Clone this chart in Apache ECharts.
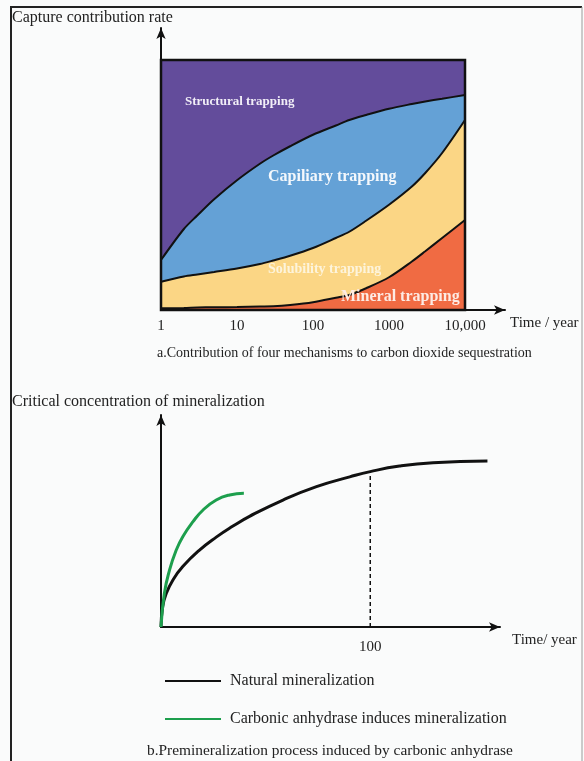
<!DOCTYPE html>
<html>
<head>
<meta charset="utf-8">
<script src="https://cdn.jsdelivr.net/npm/echarts@6/dist/echarts.min.js"></script>
<style>
  html, body { margin: 0; padding: 0; background: #fafbfb; }
  #main { width: 584px; height: 761px; }
</style>
</head>
<body>
<div id="main"></div>
<script>
// --- panel a: share of each trapping mechanism over time (log years)
const years = [1, 2, 3, 5, 10, 20, 30, 50, 100, 200, 300, 500, 1000, 2000, 3000, 5000, 10000];
const mineral    = [0.007, 0.008, 0.010, 0.011, 0.012, 0.014, 0.015, 0.020, 0.031, 0.049, 0.060, 0.087, 0.131, 0.194, 0.235, 0.288, 0.360];
const solubility = [0.106, 0.126, 0.132, 0.141, 0.154, 0.170, 0.183, 0.197, 0.217, 0.239, 0.253, 0.270, 0.290, 0.300, 0.313, 0.340, 0.400];
const capillary  = [0.087, 0.190, 0.236, 0.291, 0.353, 0.401, 0.420, 0.438, 0.453, 0.450, 0.447, 0.423, 0.384, 0.330, 0.286, 0.217, 0.100];
const structural = [0.800, 0.676, 0.622, 0.557, 0.481, 0.415, 0.382, 0.345, 0.299, 0.262, 0.240, 0.220, 0.195, 0.176, 0.166, 0.155, 0.140];
const yearTicks = {1: '1', 10: '10', 100: '100', 1000: '1000', 10000: '10,000'};

// --- panel b: critical concentration of mineralization
const naturalYears = [0, 0.8, 2.5, 5.7, 10.4, 18.4, 26.4, 34.4, 42.3, 58.3, 74.3, 90.2, 100, 114, 130, 156];
const naturalLevel = [0, 0.096, 0.158, 0.222, 0.285, 0.363, 0.424, 0.476, 0.522, 0.599, 0.662, 0.708, 0.733, 0.759, 0.775, 0.783];
const enzymeYears = [0, 1.6, 4.1, 7.3, 10.4, 15.3, 20.1, 26.4, 32.8, 39.6];
const enzymeLevel = [0, 0.158, 0.269, 0.363, 0.426, 0.497, 0.552, 0.599, 0.623, 0.631];
const markYear = 100;
const markLevel = 0.733;

const serif = 'Liberation Serif';
const pair = (xs, ys) => xs.map((x, i) => [x, ys[i]]);

// share goes first in each row so the stack is applied to the share, not to the year
function areaSeries(name, values, color) {
  return {
    name, type: 'line', stack: 'total', xAxisIndex: 0, yAxisIndex: 0,
    data: pair(values, years), encode: { x: 1, y: 0 },
    smooth: 0.3, symbol: 'none',
    lineStyle: { color: '#111', width: 2 },
    areaStyle: { color: color, opacity: 1 },
    z: 2
  };
}

const arrowAxisLine = { show: true, symbol: ['none', 'arrow'], symbolSize: [7, 11], lineStyle: { color: '#111', width: 2 } };
const hiddenAxis = { axisLine: { show: false }, axisTick: { show: false }, axisLabel: { show: false }, splitLine: { show: false } };

const chart = echarts.init(document.getElementById('main'));
chart.setOption({
  backgroundColor: '#fafbfb',
  animation: false,
  textStyle: { fontFamily: serif },
  grid: [
    { left: 161, top: 60, width: 304, height: 250, show: true, borderColor: '#111', borderWidth: 2.5, z: 3 },
    { left: 161, top: 28, width: 344, height: 282 },
    { left: 161, top: 415, width: 339, height: 212 }
  ],
  xAxis: [
    { gridIndex: 0, type: 'log', logBase: 10, min: 1, max: 10000,
      axisLine: { show: false }, axisTick: { show: false }, splitLine: { show: false },
      axisLabel: { margin: 9, color: '#222', fontSize: 15, fontFamily: serif,
        formatter: v => yearTicks[v] || '' } },
    Object.assign({ gridIndex: 1, type: 'value', min: 0, max: 1 }, hiddenAxis, { axisLine: arrowAxisLine }),
    { gridIndex: 2, type: 'value', min: 0, max: 162, interval: 100,
      axisLine: arrowAxisLine, axisTick: { show: false }, splitLine: { show: false },
      axisLabel: { margin: 13, color: '#222', fontSize: 15, fontFamily: serif, showMaxLabel: false,
        formatter: v => (v === markYear ? String(v) : '') } }
  ],
  yAxis: [
    Object.assign({ gridIndex: 0, type: 'value', min: 0, max: 1 }, hiddenAxis),
    Object.assign({ gridIndex: 1, type: 'value', min: 0, max: 1 }, hiddenAxis, { axisLine: arrowAxisLine }),
    Object.assign({ gridIndex: 2, type: 'value', min: 0, max: 1 }, hiddenAxis, { axisLine: arrowAxisLine })
  ],
  legend: {
    data: ['Natural mineralization', 'Carbonic anhydrase induces mineralization'],
    orient: 'vertical', left: 160, top: 668, itemWidth: 56, itemHeight: 2, itemGap: 22,
    icon: 'rect', textStyle: { fontFamily: serif, fontSize: 16, color: '#222', padding: [0, 0, 0, 4] }
  },
  series: [
    areaSeries('Mineral trapping', mineral, '#f06b43'),
    areaSeries('Solubility trapping', solubility, '#fbd685'),
    areaSeries('Capiliary trapping', capillary, '#64a1d6'),
    areaSeries('Structural trapping', structural, '#634c9b'),
    { name: 'Natural mineralization', type: 'line', xAxisIndex: 2, yAxisIndex: 2,
      data: pair(naturalYears, naturalLevel), smooth: 0.5, symbol: 'none',
      itemStyle: { color: '#111' }, lineStyle: { color: '#111', width: 3 } },
    { name: 'Carbonic anhydrase induces mineralization', type: 'line', xAxisIndex: 2, yAxisIndex: 2,
      data: pair(enzymeYears, enzymeLevel), smooth: 0.5, symbol: 'none',
      itemStyle: { color: '#1d9f4d' }, lineStyle: { color: '#1d9f4d', width: 3 } },
    { name: 'marker', type: 'line', xAxisIndex: 2, yAxisIndex: 2,
      data: [[markYear, 0], [markYear, markLevel]], symbol: 'none',
      lineStyle: { color: '#111', width: 1.5, type: [4, 3] } }
  ],
  graphic: [
    { type: 'line', shape: { x1: 11, y1: 7, x2: 582, y2: 7 }, style: { stroke: '#222', lineWidth: 2 } },
    { type: 'line', shape: { x1: 11, y1: 6, x2: 11, y2: 761 }, style: { stroke: '#222', lineWidth: 2 } },
    { type: 'line', shape: { x1: 582, y1: 7, x2: 582, y2: 761 }, style: { stroke: '#9a9a9a', lineWidth: 1 } },
    { type: 'text', left: 12, top: 10, style: { text: 'Capture contribution rate', font: '16px ' + serif, fill: '#222' } },
    { type: 'text', left: 510, top: 316, style: { text: 'Time / year', font: '15px ' + serif, fill: '#222' } },
    { type: 'text', left: 157, top: 346, style: { text: 'a.Contribution of four mechanisms to carbon dioxide sequestration', font: '14px ' + serif, fill: '#222' } },
    { type: 'text', left: 185, top: 95, z: 10, style: { text: 'Structural trapping', font: 'bold 13px ' + serif, fill: '#f1eef7' } },
    { type: 'text', left: 268, top: 169, z: 10, style: { text: 'Capiliary trapping', font: 'bold 16px ' + serif, fill: '#f4f8fc' } },
    { type: 'text', left: 268, top: 262, z: 10, style: { text: 'Solubility trapping', font: 'bold 14px ' + serif, fill: '#fdf4dc' } },
    { type: 'text', left: 341, top: 289, z: 10, style: { text: 'Mineral trapping', font: 'bold 16px ' + serif, fill: '#fdebe4' } },
    { type: 'text', left: 12, top: 394, style: { text: 'Critical concentration of mineralization', font: '16px ' + serif, fill: '#222' } },
    { type: 'text', left: 512, top: 633, style: { text: 'Time/ year', font: '15px ' + serif, fill: '#222' } },
    { type: 'text', left: 147, top: 743, style: { text: 'b.Premineralization process induced by carbonic anhydrase', font: '15.4px ' + serif, fill: '#222' } }
  ]
});
</script>
</body>
</html>
